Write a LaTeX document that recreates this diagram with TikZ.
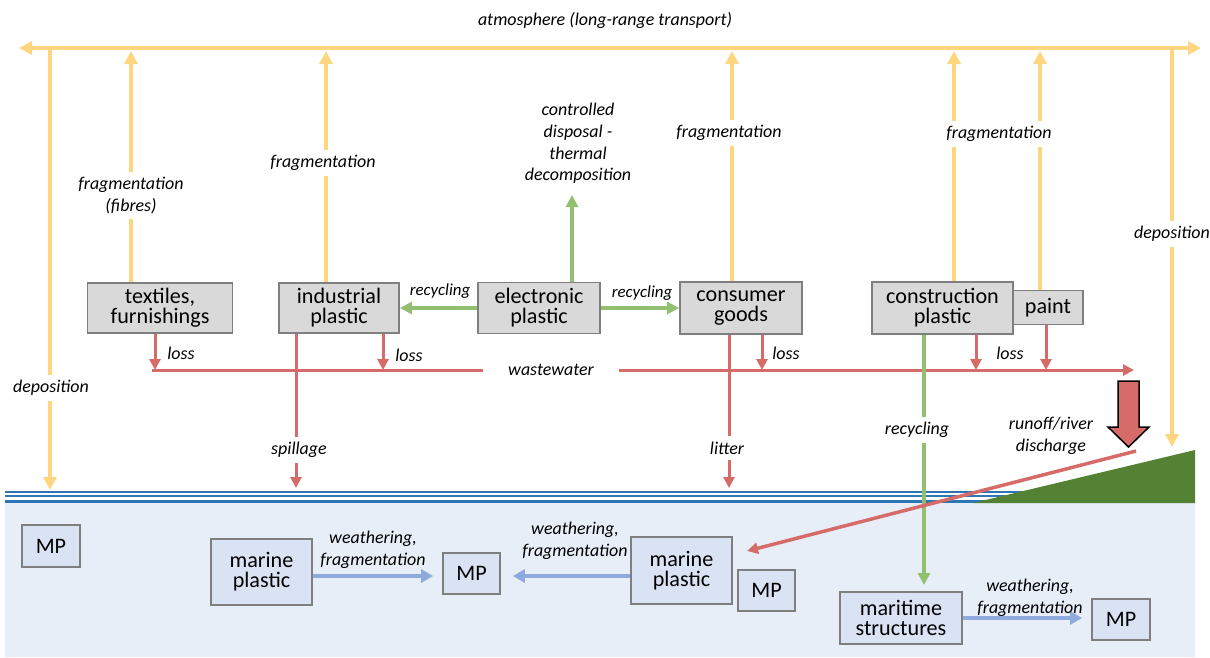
\documentclass[tikz,border=0pt]{standalone}
\usepackage{fontspec}
\setmainfont{Carlito}
\usepackage{tikz}
\usepackage{xcolor}
\usetikzlibrary{arrows.meta}
\usetikzlibrary{positioning}

\definecolor{airc}{RGB}{255,214,128}
\definecolor{lossc}{RGB}{214,108,106}
\definecolor{recyc}{RGB}{147,191,113}
\definecolor{wxc}{RGB}{143,170,220}
\definecolor{seac}{RGB}{231,238,247}
\definecolor{seafill}{RGB}{218,227,243}
\definecolor{linec}{RGB}{46,117,182}
\definecolor{landc}{RGB}{84,130,53}
\definecolor{boxc}{RGB}{217,217,217}
\definecolor{edgec}{RGB}{127,127,127}

\begin{document}
\begin{tikzpicture}[x=0.2mm,y=-0.2mm]
	\tikzstyle{box}=[rectangle,draw=edgec,fill=boxc,line width=0.35mm,inner sep=0pt,align=center,font=\fontsize{12.6}{11.4}\selectfont]
	\tikzstyle{seabox}=[box,fill=seafill]
	\tikzstyle{lbl}=[align=center,inner sep=1pt,font=\fontsize{10.2}{12.3}\selectfont\itshape]
	\tikzstyle{gap}=[lbl,fill=white,inner sep=3pt]
	\tikzstyle{air}=[draw=airc,line width=0.8mm,-{Triangle[length=2.6mm,width=2.6mm]}]
	\tikzstyle{loss}=[draw=lossc,line width=0.6mm,-{Triangle[length=2.2mm,width=2.2mm]}]
	\tikzstyle{recy}=[draw=recyc,line width=0.7mm,-{Triangle[length=2.4mm,width=2.4mm]}]
	\tikzstyle{wx}=[draw=wxc,line width=0.8mm,-{Triangle[length=2.4mm,width=2.6mm]}]

	\useasboundingbox (0,0) rectangle (1210,657);

	% sea and shore
	\fill[seac] (5,503) rectangle (1195,657);
	\draw[linec,line width=0.36mm] (5,492.2) -- (1030,492.2);
	\draw[linec,line width=0.5mm] (5,495.8) -- (1030,495.8);
	\draw[linec,line width=0.42mm] (5,501.5) -- (1030,501.5);
	\fill[landc] (973,503) -- (1195,450) -- (1195,503) -- cycle;

	% sources
	\node [box,minimum width=29mm,minimum height=10mm] (tex) at (160,308) {textiles,\\furnishings};
	\node [box,minimum width=24mm,minimum height=10mm] (ind) at (339,308) {industrial\\plastic};
	\node [box,minimum width=24.4mm,minimum height=10.2mm] (ele) at (539,308) {electronic\\plastic};
	\node [box,minimum width=24.4mm,minimum height=10.4mm] (cons) at (741,308) {consumer\\goods};
	\node [box,minimum width=14mm,minimum height=6.8mm] (pai) at (1048,307.5) {paint};
	\node [box,minimum width=28.2mm,minimum height=10.4mm] (con) at (942.5,308) {construction\\plastic};

	% marine side
	\node [seabox,minimum width=11.6mm,minimum height=8.4mm] (mp0) at (51,546) {MP};
	\node [seabox,minimum width=20.2mm,minimum height=13.2mm] (mar1) at (261.5,572) {marine\\plastic};
	\node [seabox,minimum width=11.4mm,minimum height=8.2mm] (mp1) at (471.5,573.5) {MP};
	\node [seabox,minimum width=20.2mm,minimum height=13.4mm] (mar2) at (681.5,570.5) {marine\\plastic};
	\node [seabox,minimum width=11.4mm,minimum height=8.2mm] (mp2) at (766.5,590.5) {MP};
	\node [seabox,minimum width=24.4mm,minimum height=10.4mm] (mst) at (901,618) {maritime\\structures};
	\node [seabox,minimum width=11.6mm,minimum height=8.2mm] (mp3) at (1121,619.5) {MP};

	% atmosphere
	\coordinate (atmL) at (19,48);
	\coordinate (atmR) at (1201,48);
	\draw[air,{Triangle[length=2.6mm,width=2.6mm]}-{Triangle[length=2.6mm,width=2.6mm]}] (atmL) -- (atmR);
	\node [lbl] (atm) at (605,20) {atmosphere (long-range transport)};

	\coordinate (a1) at (131,51);
	\coordinate (a2) at (326,51);
	\coordinate (a3) at (732,51);
	\coordinate (a4) at (954,51);
	\coordinate (a5) at (1040,51);
	\draw[air] (tex.north -| a1) -- (a1);
	\draw[air] (ind.north -| a2) -- (a2);
	\draw[air] (cons.north -| a3) -- (a3);
	\draw[air] (con.north -| a4) -- (a4);
	\draw[air] (pai.north -| a5) -- (a5);
	\node [gap] (fr1) at (131,195.5) {fragmentation\\(fibres)};
	\node [gap] (fr2) at (323,163) {fragmentation};
	\node [gap] (fr3) at (729,133) {fragmentation};
	\node [gap,inner xsep=2pt] (fr4) at (999,134) {fragmentation};

	% deposition
	\coordinate (dL0) at (50,48);
	\coordinate (dL1) at (50,490);
	\coordinate (dR0) at (1172,48);
	\coordinate (dR1) at (1172,447);
	\draw[air] (dL0) -- (dL1);
	\draw[air] (dR0) -- (dR1);
	\node [gap] (depL) at (51,388) {deposition};
	\node [gap] (depR) at (1172,234) {deposition};

	% recycling and disposal
	\draw[recy] (ele.west) -- (ind.east);
	\draw[recy] (ele.east) -- (cons.west);
	\node [lbl,font=\fontsize{9.6}{11}\selectfont\itshape] (rc1) at (440,291) {recycling};
	\node [lbl,font=\fontsize{9.6}{11}\selectfont\itshape] (rc2) at (642,293) {recycling};
	\coordinate (disp) at (572,195);
	\draw[recy] (ele.north -| disp) -- (disp);
	\node [lbl] (dis) at (578,143.5) {controlled\\disposal -\\thermal\\decomposition};

	% wastewater
	\coordinate (wwL) at (152,370);
	\coordinate (wwR) at (1134,370);
	\draw[loss] (wwL) -- (wwR);
	\node [gap,inner xsep=5mm] (ww) at (551,370) {wastewater};
	\coordinate (w1) at (155,370);
	\coordinate (w2) at (383,370);
	\coordinate (w3) at (762,370);
	\coordinate (w4) at (976,370);
	\coordinate (w5) at (1046,370);
	\draw[loss] (tex.south -| w1) -- (w1);
	\draw[loss] (ind.south -| w2) -- (w2);
	\draw[loss] (cons.south -| w3) -- (w3);
	\draw[loss] (con.south -| w4) -- (w4);
	\draw[loss] (pai.south -| w5) -- (w5);
	\node [lbl] (l1) at (181,353) {loss};
	\node [lbl] (l2) at (409,355) {loss};
	\node [lbl] (l3) at (786,353) {loss};
	\node [lbl] (l4) at (1010,353) {loss};

	% spillage, litter
	\coordinate (sp) at (296,488);
	\coordinate (lt) at (729,488);
	\draw[loss] (ind.south -| sp) -- (sp);
	\draw[loss] (cons.south -| lt) -- (lt);
	\node [gap] (spl) at (299,450) {spillage};
	\node [gap] (lit) at (727,448) {litter};

	% recycling into the sea
	\coordinate (rc) at (924,585);
	\draw[recy] (con.south -| rc) -- (rc);
	\node [gap] (rc3) at (917,430) {recycling};

	% runoff
	\filldraw[fill=lossc,draw=black,line width=0.3mm] (1118,381) -- (1139,381) -- (1139,427) -- (1149,427) -- (1128.5,447) -- (1108,427) -- (1118,427) -- cycle;
	\node [lbl] (run) at (1051,436) {runoff/river\\discharge};
	\coordinate (rv0) at (1136,451);
	\coordinate (rv1) at (747,551);
	\draw[loss,line width=0.7mm] (rv0) -- (rv1);

	% weathering
	\coordinate (wy1) at (0,576);
	\coordinate (wy2) at (0,618);
	\draw[wx,shorten >=1.8mm] (mar1.east |- wy1) -- (mp1.west |- wy1);
	\draw[wx,shorten >=2.4mm] (mar2.west |- wy1) -- (mp1.east |- wy1);
	\draw[wx,shorten >=1.8mm] (mst.east |- wy2) -- (mp3.west |- wy2);
	\node [lbl] (wx1) at (373,550) {weathering,\\fragmentation};
	\node [lbl] (wx2) at (575,541) {weathering,\\fragmentation};
	\node [lbl] (wx3) at (1030,598) {weathering,\\fragmentation};
\end{tikzpicture}
\end{document}
